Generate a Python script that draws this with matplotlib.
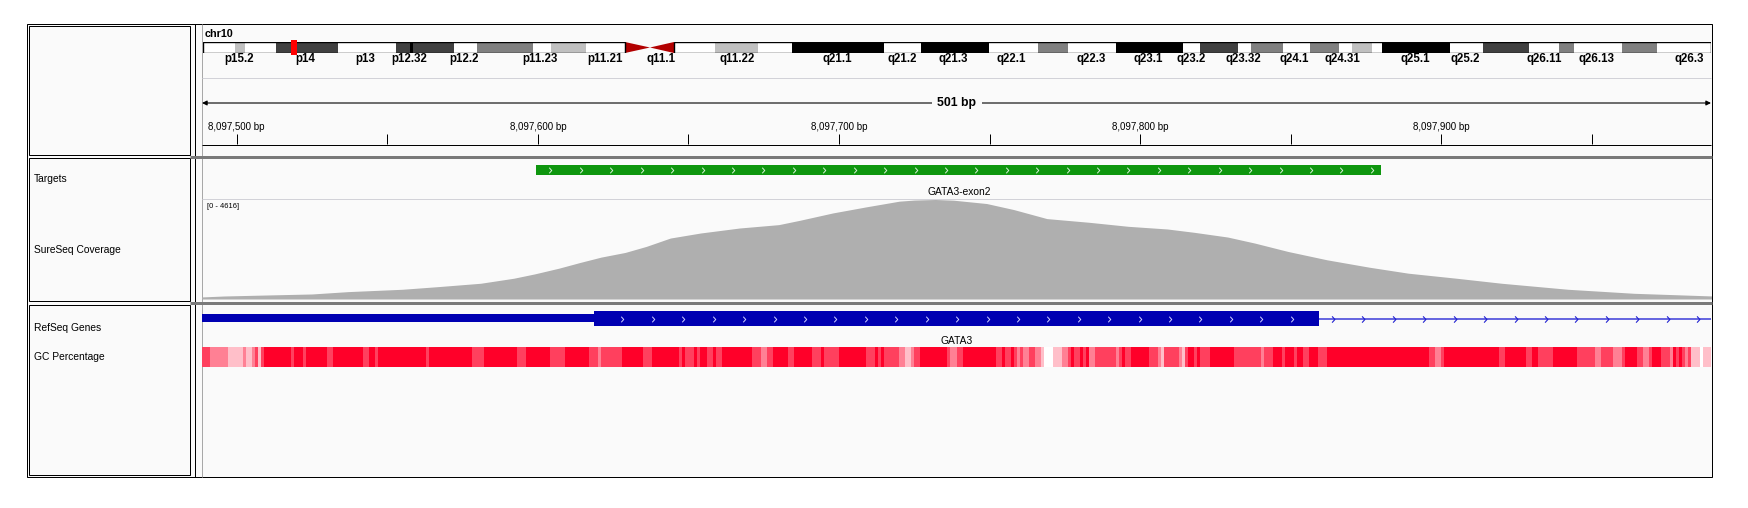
import numpy as np
import matplotlib
matplotlib.use('Agg')
import matplotlib.pyplot as plt
from matplotlib.patches import Rectangle, Polygon
from matplotlib.path import Path

plt.rcParams['font.family'] = ['Liberation Sans', 'DejaVu Sans']

# ---------------- data ----------------
CHROM = 'chr10'
CHROM_LEN_MB = 133.8
CURRENT_POS_MB = 8.0977

# cytobands (Mb)
BAND_START = [0, 2.84, 3.73, 6.48, 11.98, 17.12, 18.37, 18.6, 22.27, 24.31, 29.28, 30.88,
              33.98, 37.44, 39.66, 41.79, 45.43, 49.25, 52.26, 60.42, 63.71, 69.74, 74.09,
              76.75, 81.01, 86.96, 88.46, 91.84, 92.99, 95.83, 98.22, 100.8, 101.95, 103.73,
              104.61, 110.65, 113.57, 117.65, 120.32, 121.65, 125.9, 129.0]
BAND_END = BAND_START[1:] + [133.8]
BAND_STAIN = ['gneg', 'gpos25', 'gneg', 'gpos75', 'gneg', 'gpos75', 'gpos100', 'gpos75',
              'gneg', 'gpos50', 'gneg', 'gpos25', 'gneg', 'acen_p', 'acen_q', 'gneg',
              'gpos25', 'gneg', 'gpos100', 'gneg', 'gpos100', 'gneg', 'gpos50', 'gneg',
              'gpos100', 'gneg', 'gpos75', 'gneg', 'gpos50', 'gneg', 'gpos50', 'gneg',
              'gpos25', 'gneg', 'gpos100', 'gneg', 'gpos75', 'gneg', 'gpos50', 'gneg',
              'gpos50', 'gneg']
BAND_LABELS = ['p15.2', 'p14', 'p13', 'p12.32', 'p12.2', 'p11.23', 'p11.21', 'q11.1',
               'q11.22', 'q21.1', 'q21.2', 'q21.3', 'q22.1', 'q22.3', 'q23.1', 'q23.2',
               'q23.32', 'q24.1', 'q24.31', 'q25.1', 'q25.2', 'q26.11', 'q26.13', 'q26.3']
BAND_LABEL_POS = [3.2, 9.1, 14.4, 18.3, 23.2, 29.9, 35.7, 40.6, 47.4, 56.3, 62.0, 66.6,
                  71.7, 78.8, 83.9, 87.7, 92.3, 96.8, 101.1, 107.6, 112.0, 119.0, 123.6, 131.9]

VIEW_START = 8097488.5
VIEW_END = 8097989.5
MAJOR_TICKS = [8097500, 8097600, 8097700, 8097800, 8097900]
MINOR_TICKS = [8097550, 8097650, 8097750, 8097850, 8097950]

TRACK_NAMES = ['Targets', 'SureSeq Coverage', 'RefSeq Genes', 'GC Percentage']

TARGET_NAME = 'GATA3-exon2'
TARGET_START = 8097599.5
TARGET_END = 8097880.0

COV_MAX = 4616
COV_POS = [8097488, 8097496, 8097510, 8097525, 8097537, 8097555, 8097567, 8097581, 8097592,
           8097599, 8097607, 8097614, 8097621, 8097629, 8097636, 8097644, 8097654, 8097667,
           8097680, 8097687, 8097698, 8097709, 8097720, 8097725, 8097732, 8097738, 8097749,
           8097758, 8097769, 8097783, 8097796, 8097809, 8097818, 8097829, 8097838, 8097849,
           8097862, 8097876, 8097889, 8097905, 8097920, 8097942, 8097964, 8097990]
COV_DEPTH = [93, 140, 186, 233, 342, 451, 575, 730, 963, 1166, 1430, 1694, 1943, 2160, 2440,
             2828, 3061, 3294, 3450, 3652, 3994, 4274, 4538, 4590, 4616, 4584, 4429, 4149,
             3730, 3559, 3372, 3248, 3092, 2875, 2595, 2207, 1818, 1476, 1197, 963, 730, 451,
             264, 140]

GENE_NAME = 'GATA3'
GENE_TX_START = 8097300
GENE_CDS_START = 8097618.5
GENE_EXON_END = 8097859.5
GENE_TX_END = 8117000

GC_START = [8097488, 8097491, 8097497, 8097502, 8097503, 8097505, 8097506, 8097507, 8097508,
            8097509, 8097518, 8097519, 8097522, 8097523, 8097530, 8097532, 8097542, 8097544,
            8097546, 8097547, 8097563, 8097564, 8097578, 8097582, 8097593, 8097596, 8097604,
            8097609, 8097617, 8097620, 8097621, 8097628, 8097635, 8097638, 8097647, 8097648,
            8097649, 8097652, 8097653, 8097654, 8097656, 8097658, 8097659, 8097661, 8097671,
            8097674, 8097676, 8097678, 8097683, 8097685, 8097691, 8097694, 8097695, 8097700,
            8097709, 8097712, 8097713, 8097714, 8097715, 8097720, 8097722, 8097724, 8097725,
            8097727, 8097736, 8097737, 8097739, 8097741, 8097752, 8097754, 8097755, 8097757,
            8097758, 8097759, 8097760, 8097761, 8097763, 8097765, 8097767, 8097768, 8097771,
            8097774, 8097776, 8097777, 8097778, 8097780, 8097781, 8097782, 8097783, 8097785,
            8097792, 8097793, 8097794, 8097795, 8097797, 8097803, 8097806, 8097807, 8097808,
            8097813, 8097814, 8097815, 8097816, 8097818, 8097819, 8097820, 8097823, 8097831,
            8097840, 8097841, 8097844, 8097847, 8097848, 8097851, 8097852, 8097854, 8097856,
            8097859, 8097862, 8097896, 8097898, 8097900, 8097901, 8097919, 8097921, 8097928,
            8097930, 8097932, 8097937, 8097945, 8097951, 8097953, 8097957, 8097960, 8097961,
            8097965, 8097967, 8097969, 8097970, 8097973, 8097976, 8097977, 8097978, 8097979,
            8097980, 8097981, 8097982, 8097983, 8097986, 8097987]
GC_PCT = [80, 60, 40, 60, 40, 60, 80, 40, 80,
          100, 80, 100, 80, 100, 80, 100, 80, 100,
          80, 100, 80, 100, 80, 100, 80, 100, 80,
          100, 80, 60, 80, 100, 80, 100, 80, 100,
          80, 100, 80, 100, 80, 100, 80, 100, 80,
          60, 80, 100, 80, 100, 80, 100, 80, 100,
          80, 100, 80, 100, 80, 60, 40, 60, 80,
          100, 80, 60, 80, 100, 80, 100, 80, 100,
          80, 60, 80, 60, 80, 60, 40, 20, 40,
          60, 80, 100, 80, 100, 80, 100, 60, 80,
          60, 80, 100, 80, 100, 80, 60, 40, 80,
          60, 40, 80, 100, 80, 100, 80, 100, 80,
          60, 80, 100, 80, 100, 80, 100, 80, 100,
          80, 100, 80, 60, 80, 100, 80, 100, 80,
          100, 80, 100, 80, 60, 80, 60, 80, 100,
          80, 60, 80, 100, 80, 60, 100, 80, 100,
          80, 60, 80, 40, 20, 40]
GC_END = 8097990

# ---------------- layout (pixels) ----------------
W, H = 1748, 508
fig = plt.figure(figsize=(W / 100, H / 100), dpi=100)
PX = 0.72  # one pixel in points


def px_axes(x0, y0, x1, y1, z=2):
    ax = fig.add_axes([x0 / W, 1 - y1 / H, (x1 - x0) / W, (y1 - y0) / H], zorder=z)
    ax.set_axis_off()
    ax.patch.set_alpha(0)
    return ax


bg = px_axes(0, 0, W, H, z=0)
bg.set_xlim(0, W)
bg.set_ylim(H, 0)

FL, FR, FT, FB = 27, 1712, 24, 477
DX0, DX1 = 202, 1711
bg.add_patch(Rectangle((FL, FT), FR - FL, FB - FT, facecolor='#fafafa', edgecolor='black', lw=PX))
for y0, y1 in [(26, 155), (158, 301), (305, 475)]:
    bg.add_patch(Rectangle((29, y0), 190 - 29, y1 - y0, fill=False, edgecolor='black', lw=PX))
bg.vlines(195, FT, FB, color='black', lw=PX)
bg.vlines(DX0, FT, FB, color='#a8a8a8', lw=PX)
bg.hlines([157, 303], 190, FR, color='#7a7a7a', lw=3 * PX)
bg.hlines(78, DX0, DX1, color='#d2d2d8', lw=PX)
bg.hlines(199, DX0, DX1, color='#d2d2d8', lw=PX)
bg.hlines(145, DX0, DX1, color='black', lw=PX)

bg.text(205, 34, CHROM, fontsize=7.8, fontweight='bold', va='center', ha='left')

name_y = [179, 250, 328, 357]
for name, y in zip(TRACK_NAMES, name_y):
    bg.text(34, y, name, fontsize=7.4, va='center', ha='left')

# ---------------- ideogram ----------------
ideo = px_axes(203, 42, DX1, 53, z=3)
ideo.set_xlim(0, CHROM_LEN_MB)
ideo.set_ylim(0, 1)
stain_col = {'gneg': 'white', 'gpos25': '#c0c0c0', 'gpos50': '#808080',
             'gpos75': '#404040', 'gpos100': 'black'}
starts = np.array(BAND_START)
ends = np.array(BAND_END)
norm = [s not in ('acen_p', 'acen_q') for s in BAND_STAIN]
ideo.bar(starts[norm], 1, ends[norm] - starts[norm], align='edge',
         color=[stain_col[s] for s, k in zip(BAND_STAIN, norm) if k], lw=0)
for s, e, st in zip(BAND_START, BAND_END, BAND_STAIN):
    if st == 'acen_p':
        ideo.add_patch(Polygon([(s, 0), (s, 1), (e, 0.5)], color='#b20000', lw=0))
        p_end = s
    elif st == 'acen_q':
        ideo.add_patch(Polygon([(s, 0.5), (e, 1), (e, 0)], color='#b20000', lw=0))
        q_start = e
ideo.add_patch(Rectangle((0, 0), p_end, 1, fill=False, ec='black', lw=1.0))
ideo.add_patch(Rectangle((q_start, 0), CHROM_LEN_MB - q_start, 1, fill=False, ec='black', lw=1.0))
ideo.add_patch(Rectangle((CURRENT_POS_MB - 0.25, -0.2), 0.5, 1.4, color='#ff0000', lw=0,
                         clip_on=False, zorder=5))
for lab, pos in zip(BAND_LABELS, BAND_LABEL_POS):
    ideo.text(pos, -0.58, lab, fontsize=8.3, fontweight='bold', ha='center', va='center',
              clip_on=False)

# ---------------- genomic tracks (y in pixels) ----------------
trk = px_axes(DX0, FT, DX1, FB, z=4)
trk.set_xlim(VIEW_START, VIEW_END)
trk.set_ylim(FB, FT)

# ruler
trk.annotate('', xy=(VIEW_END, 103), xytext=(VIEW_START, 103),
             arrowprops=dict(arrowstyle='<|-|>', color='black', lw=0.8, mutation_scale=7,
                             shrinkA=0, shrinkB=0))
span = int(round(VIEW_END - VIEW_START))
trk.text((VIEW_START + VIEW_END) / 2, 103, f'{span} bp', fontsize=8.8, fontweight='bold',
         ha='center', va='center',
         bbox=dict(facecolor='#fafafa', edgecolor='none', pad=4))
trk.vlines(MAJOR_TICKS + MINOR_TICKS, 134, 144, color='black', lw=PX)
for t in MAJOR_TICKS:
    trk.text(t, 127, f'{t:,} bp', fontsize=7.0, ha='center', va='center')

# chevron marker
chev = Path([(-0.45, 1), (0.45, 0), (-0.45, -1)], [Path.MOVETO, Path.LINETO, Path.LINETO])

# targets
trk.bar(TARGET_START, 10, TARGET_END - TARGET_START, bottom=165, align='edge',
        color='#0e960e', lw=0)
tx = np.arange(TARGET_START + 4.7, TARGET_END - 2, 10.1)
trk.plot(tx, np.full(len(tx), 170), ls='none', marker=chev, ms=4, mfc='none',
         mec='#d8f0d8', mew=0.7)
trk.text((TARGET_START + TARGET_END) / 2, 192, TARGET_NAME, fontsize=7.4,
         ha='center', va='center')

# genes
trk.bar(GENE_TX_START, 8, GENE_CDS_START - GENE_TX_START, bottom=314, align='edge',
        color='#0000b2', lw=0)
trk.bar(GENE_CDS_START, 15, GENE_EXON_END - GENE_CDS_START, bottom=311, align='edge',
        color='#0000b2', lw=0)
trk.hlines(318.5, GENE_EXON_END, GENE_TX_END, color='#3838d8', lw=1.5 * PX)
ex = np.arange(GENE_CDS_START + 9.6, GENE_EXON_END - 3, 10.1)
trk.plot(ex, np.full(len(ex), 318.5), ls='none', marker=chev, ms=4, mfc='none',
         mec='#d0d0ff', mew=0.7)
ix = np.arange(GENE_EXON_END + 4.5, VIEW_END, 10.1)
trk.plot(ix, np.full(len(ix), 318.5), ls='none', marker=chev, ms=4.5, mfc='none',
         mec='#2020d0', mew=0.8)
trk.text((GENE_CDS_START + GENE_EXON_END) / 2, 341, GENE_NAME, fontsize=7.4,
         ha='center', va='center')

# GC percentage
gc_start = np.array(GC_START, dtype=float)
gc_width = np.diff(np.append(gc_start, GC_END))
red = np.array([1.0, 0.0, 0.16])
alpha = (np.array(GC_PCT) - 20) / 80.0
gc_cols = [tuple(1 - a * (1 - red)) for a in alpha]
trk.bar(gc_start, 20, gc_width, bottom=347, align='edge', color=gc_cols, lw=0)

# ---------------- coverage ----------------
cov = px_axes(DX0, 199.5, DX1, 299, z=3)
cov.set_xlim(VIEW_START, VIEW_END)
cov.set_ylim(0, COV_MAX)
cov.fill_between(COV_POS, COV_DEPTH, color='#afafaf', lw=0)
bg.text(207, 206, f'[0 - {COV_MAX}]', fontsize=5.4, ha='left', va='center')

fig.savefig('out.png', dpi=100, facecolor='white')
